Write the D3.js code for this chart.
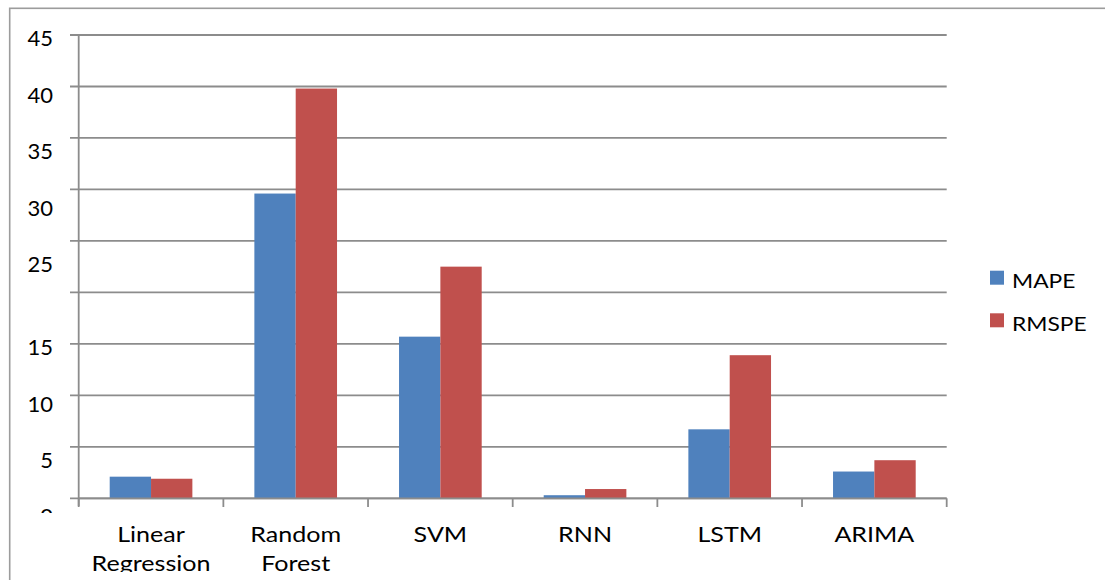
<!DOCTYPE html>
<html>
<head>
<meta charset="utf-8">
<script src="https://cdn.jsdelivr.net/npm/d3@7"></script>
<style>
  html, body { margin: 0; padding: 0; background: #fff; }
  svg { display: block; font-family: "Lato", "Open Sans", sans-serif; }
</style>
</head>
<body>
<svg id="chart" width="1105" height="580"></svg>
<script>
// Error metrics per forecasting model
const categories = [["Linear", "Regression"], ["Random", "Forest"], ["SVM"], ["RNN"], ["LSTM"], ["ARIMA"]];
const seriesNames = ["MAPE", "RMSPE"];
const mapeValues  = [2.1, 29.6, 15.7, 0.3, 6.7, 2.6];
const rmspeValues = [1.9, 39.8, 22.5, 0.9, 13.9, 3.7];
const gridValues  = [0, 5, 10, 15, 20, 25, 30, 35, 40, 45];
const tickLabels  = [45, 40, 35, 30, 25, 15, 10, 5, 0];
const colors = ["#4f81bd", "#c0504d"];

const svg = d3.select("#chart");
const plotLeft = 78.7, plotRight = 946.7, plotTop = 35, plotBottom = 498.3;
const catKeys = categories.map(c => c.join(" "));
const values = [mapeValues, rmspeValues];
const textStretch = 1.14;   // wide lettering for category and legend text

const y = d3.scaleLinear().domain([0, 45]).range([plotBottom, plotTop]);
const x = d3.scaleBand().domain(catKeys).range([plotLeft, plotRight]).padding(0);
const xs = d3.scaleBand().domain(seriesNames).range([0, x.bandwidth()])
  .paddingInner(0).paddingOuter(0.75);

// the value labels drift from the gridlines, as laid out in the original sheet
const labelY = d3.scaleLinear().domain([45, 25, 15, 0]).range([38, 264, 347.3, 516]);

const lineColor = "#8c8c8c";

// outer chart frame (continues past the visible area)
svg.append("rect")
  .attr("x", 9.7).attr("y", 8.3).attr("width", 1300).attr("height", 800)
  .attr("fill", "none").attr("stroke", "#9c9c9c").attr("stroke-width", 1.6);

// horizontal gridlines with their left tick stubs
svg.append("g").selectAll("line").data(gridValues).join("line")
  .attr("x1", 70).attr("x2", plotRight)
  .attr("y1", d => y(d)).attr("y2", d => y(d))
  .attr("stroke", lineColor).attr("stroke-width", 1.8);

// vertical value axis
svg.append("line")
  .attr("x1", plotLeft).attr("x2", plotLeft).attr("y1", plotTop).attr("y2", 506)
  .attr("stroke", lineColor).attr("stroke-width", 1.8);

// bars
const groups = svg.append("g").selectAll("g").data(catKeys).join("g")
  .attr("transform", d => `translate(${x(d)},0)`);
groups.selectAll("rect")
  .data((d, i) => seriesNames.map((s, j) => ({ s, v: values[j][i], j })))
  .join("rect")
  .attr("x", d => xs(d.s))
  .attr("width", xs.bandwidth())
  .attr("y", d => y(d.v))
  .attr("height", d => y(0) - y(d.v))
  .attr("fill", d => colors[d.j]);

// category axis line and tick marks
svg.append("line")
  .attr("x1", plotLeft).attr("x2", plotRight).attr("y1", y(0)).attr("y2", y(0))
  .attr("stroke", lineColor).attr("stroke-width", 1.8);
const catEdges = catKeys.map(k => x(k)).concat([plotRight]);
svg.append("g").selectAll("line").data(catEdges).join("line")
  .attr("x1", d => d).attr("x2", d => d).attr("y1", y(0)).attr("y2", 507)
  .attr("stroke", lineColor).attr("stroke-width", 1.8);

// clipping regions for labels cut off by the frame
const defs = svg.append("defs");
defs.append("clipPath").attr("id", "clipY")
  .append("rect").attr("x", 0).attr("y", 0).attr("width", 78).attr("height", 513);
defs.append("clipPath").attr("id", "clipX")
  .append("rect").attr("x", 0).attr("y", 0).attr("width", 1105).attr("height", 572);

// value labels
svg.append("g").attr("clip-path", "url(#clipY)")
  .selectAll("text").data(tickLabels).join("text")
  .attr("x", 53).attr("y", d => labelY(d) + 8)
  .attr("text-anchor", "end")
  .attr("font-size", 22).attr("fill", "#000")
  .text(d => d);

// category labels (wrapped onto two lines where needed)
const catText = svg.append("g").attr("clip-path", "url(#clipX)")
  .selectAll("g").data(categories).join("g")
  .attr("transform", (d, i) => `translate(${x(catKeys[i]) + x.bandwidth() / 2},0) scale(${textStretch},1)`)
  .append("text")
  .attr("x", 0)
  .attr("y", 541.7)
  .attr("text-anchor", "middle")
  .attr("font-size", 22).attr("fill", "#000");
catText.selectAll("tspan").data(d => d).join("tspan")
  .attr("x", 0)
  .attr("dy", (d, i) => i === 0 ? 0 : 29)
  .text(d => d);

// legend
const legend = svg.append("g").selectAll("g").data(seriesNames).join("g")
  .attr("transform", (d, i) => `translate(990,${270.7 + i * 42.6})`);
legend.append("rect").attr("width", 14).attr("height", 14)
  .attr("fill", (d, i) => colors[i]);
legend.append("text")
  .attr("transform", `translate(22,17.6) scale(${textStretch},1)`)
  .attr("font-size", 20).attr("fill", "#000")
  .text(d => d);
</script>
</body>
</html>
